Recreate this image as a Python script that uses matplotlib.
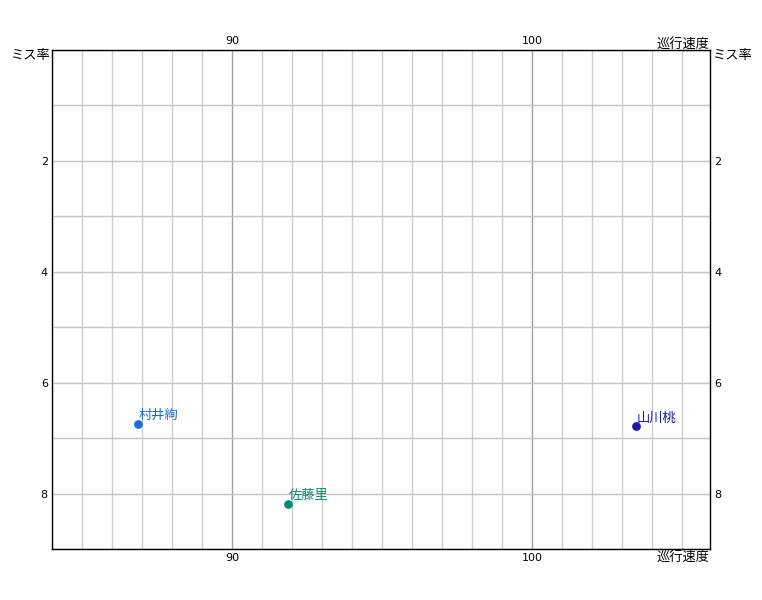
import matplotlib
matplotlib.use("Agg")
import matplotlib.pyplot as plt
from matplotlib.ticker import MultipleLocator

plt.rcParams["font.family"] = ["Noto Sans CJK JP", "DejaVu Sans"]

# 選手ごとの巡行速度とミス率
names = ["村井絢", "佐藤里", "山川桃"]
speed = [86.87, 91.87, 103.47]
miss_rate = [6.74, 8.18, 6.79]
colors = ["#1a6fd6", "#0a8a78", "#1c1ca8"]

x_min, x_max = 84, 105.93
y_min, y_max = 0, 9

fig = plt.figure(figsize=(7.62, 6.0), dpi=100)
ax = fig.add_axes([52 / 762, 1 - 549 / 600, (710 - 52) / 762, (549 - 50) / 600])

ax.set_xlim(x_min, x_max)
ax.set_ylim(y_max, y_min)

ax.xaxis.set_major_locator(MultipleLocator(10))
ax.xaxis.set_minor_locator(MultipleLocator(1))
ax.yaxis.set_major_locator(MultipleLocator(2))
ax.yaxis.set_minor_locator(MultipleLocator(1))

ax.grid(which="minor", axis="x", color="#cccccc", linewidth=1)
ax.grid(which="major", axis="x", color="#a0a0a0", linewidth=1)
ax.grid(which="both", axis="y", color="#c4c4c4", linewidth=1)
ax.set_axisbelow(True)

ax.tick_params(which="both", length=0, labelsize=8, pad=3,
               top=True, labeltop=True, right=True, labelright=True)
ax.set_yticks([2, 4, 6, 8])
for lbl in ax.get_yticklabels() + ax.get_xticklabels():
    lbl.set_family("DejaVu Sans")

for s in ax.spines.values():
    s.set_color("black")
    s.set_linewidth(1)

for n, xv, yv, c in zip(names, speed, miss_rate, colors):
    ax.scatter(xv, yv, s=28, color=c, zorder=3)
    ax.annotate(n, (xv, yv), xytext=(0.5, 1), textcoords="offset points",
                color=c, fontsize=9.5, ha="left", va="bottom")

# 軸タイトル
fig.text(51 / 762, 1 - 55 / 600, "ミス率", ha="right", va="center", fontsize=9.5)
fig.text(713 / 762, 1 - 55 / 600, "ミス率", ha="left", va="center", fontsize=9.5)
fig.text(710 / 762, 1 - 44 / 600, "巡行速度", ha="right", va="center", fontsize=9.5)
fig.text(710 / 762, 1 - 557 / 600, "巡行速度", ha="right", va="center", fontsize=9.5)

fig.savefig("out.png", dpi=100)
